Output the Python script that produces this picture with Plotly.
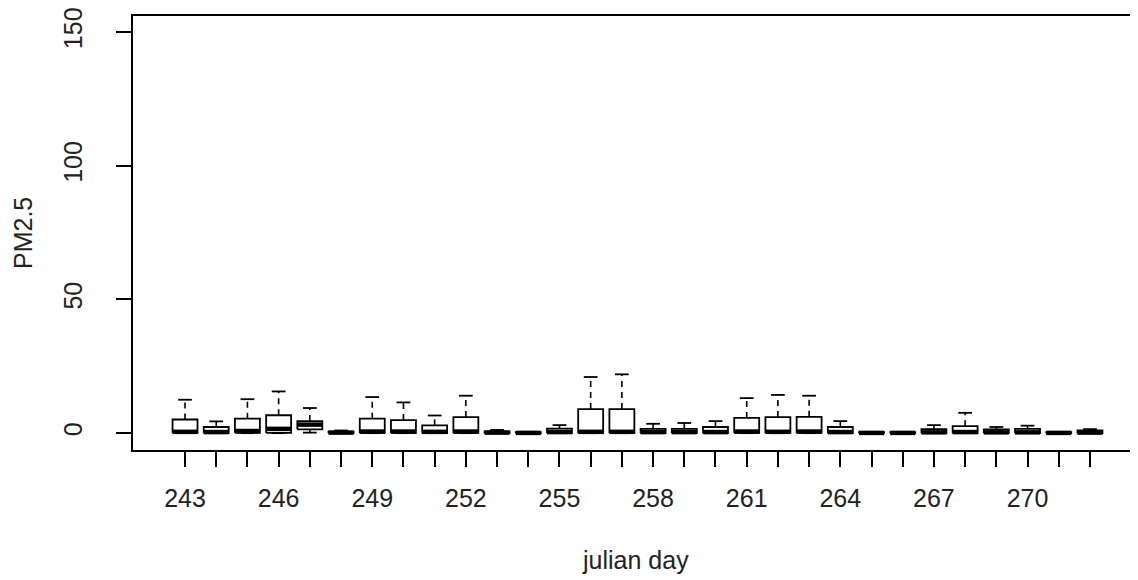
import plotly.graph_objects as go

days = list(range(243, 273))
# five-number summaries
mins =   [0, 0, 0, 0, 0.2, 0, 0, 0, 0, 0, 0, 0, 0, 0, 0, 0, 0, 0, 0, 0, 0, 0, 0, 0, 0, 0, 0, 0, 0, 0]
q1s =    [0.1, 0, 0.1, 0.1, 1.4, 0, 0.1, 0.1, 0, 0.1, 0, 0, 0, 0.1, 0.1, 0, 0, 0, 0.1, 0.1, 0.1, 0, 0, 0, 0, 0, 0, 0, 0, 0]
meds =   [0.5, 0.4, 0.8, 1.6, 3.2, 0.2, 0.6, 0.6, 0.5, 0.6, 0.2, 0.1, 0.4, 0.5, 0.5, 0.4, 0.4, 0.4, 0.6, 0.5, 0.6, 0.4, 0.1, 0.1, 0.3, 0.4, 0.3, 0.3, 0.1, 0.2]
q3s =    [5.1, 2.3, 5.4, 6.7, 4.5, 0.6, 5.4, 4.9, 2.9, 6.0, 0.7, 0.4, 1.7, 9.0, 9.0, 1.6, 1.6, 2.3, 5.7, 6.0, 6.1, 2.3, 0.4, 0.4, 1.5, 2.6, 1.4, 1.6, 0.4, 1.0]
maxs =   [12.5, 4.4, 12.7, 15.6, 9.4, 1.0, 13.5, 11.5, 6.6, 14.0, 1.2, 0.5, 3.0, 21.0, 22.0, 3.5, 3.8, 4.5, 13.1, 14.3, 14.0, 4.5, 0.4, 0.4, 3.0, 7.6, 2.3, 2.8, 0.4, 1.5]

tick_labels = [str(d) if (d - 243) % 3 == 0 else "" for d in days]
y_ticks = [0, 50, 100, 150]

pos = list(range(1, len(days) + 1))
hw = 0.4      # half box width
sw = 0.22     # half staple width

box_x, box_y = [], []
med_x, med_y = [], []
wh_x, wh_y = [], []
st_x, st_y = [], []
for p, lo, a, m, b, hi in zip(pos, mins, q1s, meds, q3s, maxs):
    box_x += [p - hw, p + hw, p + hw, p - hw, p - hw, None]
    box_y += [a, a, b, b, a, None]
    med_x += [p - hw, p + hw, None]
    med_y += [m, m, None]
    wh_x += [p, p, None, p, p, None]
    wh_y += [b, hi, None, a, lo, None]
    st_x += [p - sw, p + sw, None, p - sw, p + sw, None]
    st_y += [hi, hi, None, lo, lo, None]

fig = go.Figure()
fig.add_trace(go.Scatter(x=wh_x, y=wh_y, mode="lines",
                         line=dict(color="black", width=1.6, dash="6px,5px"),
                         hoverinfo="skip", showlegend=False))
fig.add_trace(go.Scatter(x=st_x, y=st_y, mode="lines",
                         line=dict(color="black", width=1.8),
                         hoverinfo="skip", showlegend=False))
fig.add_trace(go.Scatter(x=box_x, y=box_y, mode="lines", fill="toself",
                         fillcolor="white",
                         line=dict(color="black", width=1.8),
                         hoverinfo="skip", showlegend=False))
fig.add_trace(go.Scatter(x=med_x, y=med_y, mode="lines",
                         line=dict(color="black", width=4.5),
                         hoverinfo="skip", showlegend=False))

font = dict(family="Liberation Sans, Arial, sans-serif", size=25, color="#222")

fig.update_layout(
    width=1130, height=572,
    margin=dict(l=125, r=0, t=4, b=130),
    plot_bgcolor="white", paper_bgcolor="white",
    font=font,
    showlegend=False,
    xaxis=dict(range=[-0.667, 31.54], tickmode="array", tickvals=pos,
               ticktext=tick_labels, ticks="outside", ticklen=15,
               tickwidth=1.5, tickcolor="black", showgrid=False,
               zeroline=False, showline=True, linecolor="black",
               linewidth=1.5, mirror=True, ticklabelstandoff=10,
               tickfont=font),
    yaxis=dict(range=[-6.3, 156.0], tickmode="array", tickvals=y_ticks,
               ticktext=[str(v) for v in y_ticks], ticks="outside",
               ticklen=15, tickwidth=1.5, tickcolor="black",
               showgrid=False, zeroline=False, showline=True,
               linecolor="black", linewidth=1.5, mirror=False,
               tickangle=-90, ticklabelstandoff=24, tickfont=font,
               ticklabeloverflow="allow"),
    annotations=[
        dict(text="julian day", xref="paper", yref="paper", x=0.5, y=0,
             xanchor="center", yanchor="middle", yshift=-110,
             showarrow=False, font=font),
        dict(text="PM2.5", xref="paper", yref="paper", x=0, y=0.5,
             xanchor="center", yanchor="middle", xshift=-110,
             textangle=-90, showarrow=False, font=font),
    ],
)

fig.write_html("out.html")
